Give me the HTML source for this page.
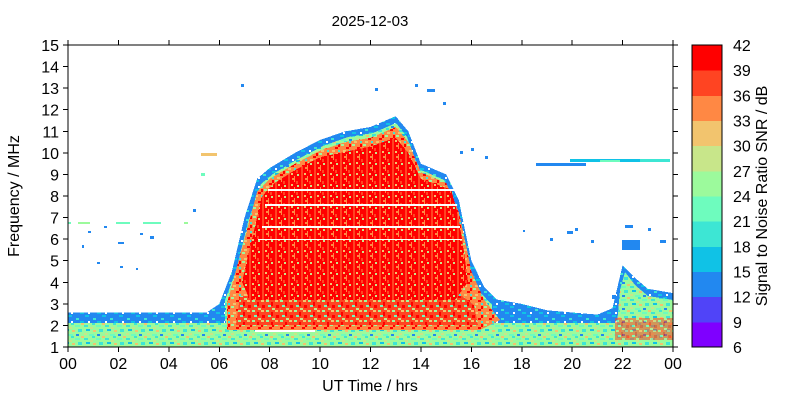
<!DOCTYPE html>
<html><head><meta charset="utf-8"><style>
body{margin:0;background:#fff;width:800px;height:400px;overflow:hidden}
svg{position:absolute;left:0;top:0}
</style></head><body>
<svg width="800" height="400" font-family="Liberation Sans, sans-serif" font-size="16" shape-rendering="crispEdges">
<defs>
<pattern id="gn" width="21" height="13" patternUnits="userSpaceOnUse">
<rect width="21" height="13" fill="#9cfa9c"/>
<rect x="0" y="0" width="4" height="2" fill="#3de6d4"/><rect x="6" y="2" width="3" height="2" fill="#c8e68a"/>
<rect x="12" y="0" width="5" height="2" fill="#6efcbe"/><rect x="2" y="4" width="4" height="2" fill="#10c2e6"/>
<rect x="9" y="5" width="3" height="2" fill="#f2c46e"/><rect x="15" y="4" width="4" height="3" fill="#3de6d4"/>
<rect x="0" y="8" width="3" height="2" fill="#c8e68a"/><rect x="5" y="9" width="5" height="2" fill="#6efcbe"/>
<rect x="13" y="9" width="3" height="2" fill="#2288f0"/><rect x="18" y="11" width="3" height="2" fill="#f2c46e"/>
<rect x="8" y="11" width="3" height="2" fill="#3de6d4"/>
</pattern>
<pattern id="bl" width="17" height="9" patternUnits="userSpaceOnUse">
<rect width="17" height="9" fill="#2288f0"/>
<rect x="0" y="0" width="4" height="2" fill="#10c2e6"/><rect x="8" y="3" width="3" height="2" fill="#3de6d4"/>
<rect x="12" y="6" width="4" height="2" fill="#10c2e6"/><rect x="3" y="6" width="2" height="2" fill="#fff"/>
</pattern>
<pattern id="rd" width="13" height="11" patternUnits="userSpaceOnUse">
<rect width="13" height="11" fill="#ff0000"/>
<rect x="2" y="0" width="2" height="11" fill="#ff4422"/><rect x="8" y="0" width="1" height="6" fill="#ff8844"/>
<rect x="10" y="5" width="2" height="3" fill="#ff4422"/><rect x="5" y="8" width="2" height="2" fill="#f2c46e"/>
<rect x="6" y="2" width="2" height="2" fill="#ff8844"/><rect x="11" y="9" width="2" height="2" fill="#c8e68a"/>
</pattern>
<pattern id="og" width="11" height="9" patternUnits="userSpaceOnUse">
<rect width="11" height="9" fill="#ff8844"/>
<rect x="0" y="0" width="3" height="2" fill="#9cfa9c"/><rect x="5" y="3" width="3" height="2" fill="#ff0000"/>
<rect x="2" y="6" width="3" height="2" fill="#f2c46e"/><rect x="8" y="6" width="2" height="2" fill="#3de6d4"/>
<rect x="8" y="0" width="2" height="3" fill="#ff0000"/>
</pattern>
<pattern id="mx" width="14" height="10" patternUnits="userSpaceOnUse">
<rect width="14" height="10" fill="#ff4422"/>
<rect x="0" y="0" width="3" height="2" fill="#9cfa9c"/><rect x="5" y="2" width="2" height="4" fill="#ff0000"/>
<rect x="9" y="0" width="3" height="2" fill="#f2c46e"/><rect x="2" y="5" width="3" height="2" fill="#6efcbe"/>
<rect x="10" y="5" width="3" height="3" fill="#ff0000"/><rect x="6" y="8" width="3" height="2" fill="#c8e68a"/>
</pattern>
</defs>
<polygon fill="url(#bl)" points="68,347 68,312.5 206.7,312.5 219.3,303.9 231.9,271.5 244.5,217.6 257.1,178.8 269.7,168 294.9,152.9 320.1,139.9 345.3,131.3 370.5,127 395.7,116.2 408.3,131.3 420.9,163.7 446.2,174.4 458.8,200 466,235 471.4,260.7 484,286.6 496.6,299.5 521.8,303.9 547,310.3 572.2,312.5 597.4,314.6 612.5,308.2 622.6,265.2 635.2,278 647.8,288.8 673,293.1 673,347"/>
<polygon fill="url(#gn)" points="225,347 225,300 236,271 248,222 261,184 273,174 298,159 323,146 348,137 373,133 396,123 407,137 419,169 444,180 456,205 464,240 468,265 480,292 492,305 492,347"/>
<polygon fill="url(#gn)" points="615,347 620,290 625,272 635,285 648,296 673,300 673,347"/>
<rect x="68" y="323" width="605" height="24" fill="url(#gn)"/>
<polygon fill="url(#og)" points="226.8,330 226.8,304 244.5,239 257.1,191.7 269.7,178.8 294.9,163.7 320.1,150.7 345.3,142 370.5,137.8 395.7,127 408.3,142 420.9,172.3 446.2,183 458.8,212 466,245 471.4,271.5 484,299.5 500,320 480,330"/>
<polygon fill="url(#mx)" points="236,325 240,296 462,296 474,305 478,325"/>
<polygon fill="url(#rd)" points="242,282 252,239 262.1,196 274.7,183 294.9,170.1 320.1,157.2 370.5,146.4 395.7,137.8 408.3,152.9 420.9,178.8 451.2,189.6 458,215 463,245 468,282 455,300 250,300"/>
<rect x="615" y="318" width="58" height="22" fill="url(#mx)" opacity="0.55"/>
<g fill="#fff">
<rect x="268" y="189" width="188" height="2"/><rect x="265" y="204" width="192" height="2"/>
<rect x="262" y="226" width="198" height="2"/><rect x="258" y="239" width="204" height="1"/>
<rect x="255" y="330" width="60" height="2"/>
</g>
<g fill="#2288f0">
<rect x="68" y="222" width="3" height="2" fill="#6efcbe"/><rect x="78" y="222" width="12" height="2" fill="#9cfa9c"/>
<rect x="116" y="222" width="14" height="2" fill="#6efcbe"/><rect x="143" y="222" width="18" height="2" fill="#6efcbe"/>
<rect x="184" y="222" width="4" height="2" fill="#9cfa9c"/>
<rect x="82" y="245" width="2" height="3"/><rect x="88" y="231" width="3" height="2"/><rect x="104" y="226" width="3" height="2"/>
<rect x="118" y="242" width="6" height="2"/><rect x="140" y="233" width="3" height="2"/><rect x="150" y="236" width="4" height="3"/>
<rect x="97" y="262" width="3" height="2"/><rect x="120" y="266" width="3" height="2"/><rect x="136" y="268" width="2" height="2"/>
<rect x="193" y="209" width="3" height="3"/>
<rect x="201" y="153" width="16" height="3" fill="#f2c46e"/><rect x="201" y="173" width="4" height="3" fill="#6efcbe"/>
<rect x="241" y="84" width="3" height="3"/><rect x="375" y="88" width="3" height="3"/><rect x="415" y="84" width="3" height="3"/>
<rect x="427" y="89" width="8" height="3"/><rect x="443" y="102" width="3" height="3"/><rect x="460" y="151" width="3" height="3"/>
<rect x="471" y="148" width="3" height="3"/><rect x="485" y="156" width="3" height="3"/><rect x="523" y="230" width="2" height="2"/>
<rect x="536" y="163" width="50" height="3"/><rect x="570" y="159" width="70" height="3" fill="#10c2e6"/>
<rect x="640" y="159" width="30" height="3" fill="#3de6d4"/><rect x="600" y="160" width="20" height="2" fill="#6efcbe"/>
<rect x="550" y="238" width="3" height="3"/><rect x="567" y="231" width="6" height="3"/><rect x="575" y="228" width="3" height="3"/>
<rect x="591" y="240" width="3" height="3"/><rect x="612" y="295" width="4" height="4"/><rect x="625" y="225" width="8" height="3"/>
<rect x="622" y="240" width="18" height="10"/><rect x="660" y="240" width="6" height="3"/><rect x="648" y="228" width="3" height="3"/>
</g>
<rect x="68" y="45" width="605" height="302" fill="none" stroke="#000"/>
<g stroke="#000">
<line x1="68" y1="347" x2="68" y2="352"/><line x1="118.4" y1="347" x2="118.4" y2="352"/><line x1="168.8" y1="347" x2="168.8" y2="352"/><line x1="219.3" y1="347" x2="219.3" y2="352"/><line x1="269.7" y1="347" x2="269.7" y2="352"/><line x1="320.1" y1="347" x2="320.1" y2="352"/><line x1="370.5" y1="347" x2="370.5" y2="352"/><line x1="420.9" y1="347" x2="420.9" y2="352"/><line x1="471.3" y1="347" x2="471.3" y2="352"/><line x1="521.8" y1="347" x2="521.8" y2="352"/><line x1="572.2" y1="347" x2="572.2" y2="352"/><line x1="622.6" y1="347" x2="622.6" y2="352"/><line x1="673" y1="347" x2="673" y2="352"/>
<line x1="68" y1="45" x2="68" y2="40"/><line x1="118.4" y1="45" x2="118.4" y2="40"/><line x1="168.8" y1="45" x2="168.8" y2="40"/><line x1="219.3" y1="45" x2="219.3" y2="40"/><line x1="269.7" y1="45" x2="269.7" y2="40"/><line x1="320.1" y1="45" x2="320.1" y2="40"/><line x1="370.5" y1="45" x2="370.5" y2="40"/><line x1="420.9" y1="45" x2="420.9" y2="40"/><line x1="471.3" y1="45" x2="471.3" y2="40"/><line x1="521.8" y1="45" x2="521.8" y2="40"/><line x1="572.2" y1="45" x2="572.2" y2="40"/><line x1="622.6" y1="45" x2="622.6" y2="40"/><line x1="673" y1="45" x2="673" y2="40"/>
<line x1="63" y1="347" x2="68" y2="347"/><line x1="63" y1="325.4" x2="68" y2="325.4"/><line x1="63" y1="303.9" x2="68" y2="303.9"/><line x1="63" y1="282.3" x2="68" y2="282.3"/><line x1="63" y1="260.7" x2="68" y2="260.7"/><line x1="63" y1="239.1" x2="68" y2="239.1"/><line x1="63" y1="217.6" x2="68" y2="217.6"/><line x1="63" y1="196" x2="68" y2="196"/><line x1="63" y1="174.4" x2="68" y2="174.4"/><line x1="63" y1="152.9" x2="68" y2="152.9"/><line x1="63" y1="131.3" x2="68" y2="131.3"/><line x1="63" y1="109.7" x2="68" y2="109.7"/><line x1="63" y1="88.1" x2="68" y2="88.1"/><line x1="63" y1="66.6" x2="68" y2="66.6"/><line x1="63" y1="45" x2="68" y2="45"/>
<line x1="673" y1="347" x2="678" y2="347"/><line x1="673" y1="325.4" x2="678" y2="325.4"/><line x1="673" y1="303.9" x2="678" y2="303.9"/><line x1="673" y1="282.3" x2="678" y2="282.3"/><line x1="673" y1="260.7" x2="678" y2="260.7"/><line x1="673" y1="239.1" x2="678" y2="239.1"/><line x1="673" y1="217.6" x2="678" y2="217.6"/><line x1="673" y1="196" x2="678" y2="196"/><line x1="673" y1="174.4" x2="678" y2="174.4"/><line x1="673" y1="152.9" x2="678" y2="152.9"/><line x1="673" y1="131.3" x2="678" y2="131.3"/><line x1="673" y1="109.7" x2="678" y2="109.7"/><line x1="673" y1="88.1" x2="678" y2="88.1"/><line x1="673" y1="66.6" x2="678" y2="66.6"/><line x1="673" y1="45" x2="678" y2="45"/>
</g>
<g text-anchor="middle">
<text x="68" y="369">00</text><text x="118.4" y="369">02</text><text x="168.8" y="369">04</text><text x="219.3" y="369">06</text><text x="269.7" y="369">08</text><text x="320.1" y="369">10</text><text x="370.5" y="369">12</text><text x="420.9" y="369">14</text><text x="471.3" y="369">16</text><text x="521.8" y="369">18</text><text x="572.2" y="369">20</text><text x="622.6" y="369">22</text><text x="673" y="369">00</text>
</g>
<g text-anchor="end">
<text x="59" y="353">1</text><text x="59" y="331.4">2</text><text x="59" y="309.9">3</text><text x="59" y="288.3">4</text><text x="59" y="266.7">5</text><text x="59" y="245.1">6</text><text x="59" y="223.6">7</text><text x="59" y="202">8</text><text x="59" y="180.4">9</text><text x="59" y="158.9">10</text><text x="59" y="137.3">11</text><text x="59" y="115.7">12</text><text x="59" y="94.1">13</text><text x="59" y="72.6">14</text><text x="59" y="51">15</text>
</g>
<rect x="692" y="321.8" width="30" height="25.7" fill="#7f00ff"/>
<rect x="692" y="296.7" width="30" height="25.7" fill="#5044f8"/>
<rect x="692" y="271.5" width="30" height="25.7" fill="#2288f0"/>
<rect x="692" y="246.3" width="30" height="25.7" fill="#10c2e6"/>
<rect x="692" y="221.2" width="30" height="25.7" fill="#3de6d4"/>
<rect x="692" y="196" width="30" height="25.7" fill="#6efcbe"/>
<rect x="692" y="170.8" width="30" height="25.7" fill="#9cfa9c"/>
<rect x="692" y="145.7" width="30" height="25.7" fill="#c8e68a"/>
<rect x="692" y="120.5" width="30" height="25.7" fill="#f2c46e"/>
<rect x="692" y="95.3" width="30" height="25.7" fill="#ff8844"/>
<rect x="692" y="70.2" width="30" height="25.7" fill="#ff4422"/>
<rect x="692" y="45" width="30" height="25.7" fill="#ff0000"/>
<rect x="692" y="45" width="30" height="302" fill="none" stroke="#000"/>
<g>
<text x="733" y="353">6</text><text x="733" y="327.8">9</text><text x="733" y="302.7">12</text><text x="733" y="277.5">15</text><text x="733" y="252.3">18</text><text x="733" y="227.2">21</text><text x="733" y="202">24</text><text x="733" y="176.8">27</text><text x="733" y="151.7">30</text><text x="733" y="126.5">33</text><text x="733" y="101.3">36</text><text x="733" y="76.2">39</text><text x="733" y="51">42</text>
</g>
<text x="370" y="26" text-anchor="middle" font-size="15">2025-12-03</text>
<text x="370" y="391" text-anchor="middle">UT Time / hrs</text>
<text transform="translate(19,196) rotate(-90)" text-anchor="middle">Frequency / MHz</text>
<text transform="translate(767,196) rotate(-90)" text-anchor="middle">Signal to Noise Ratio SNR / dB</text>
</svg>
</body></html>
